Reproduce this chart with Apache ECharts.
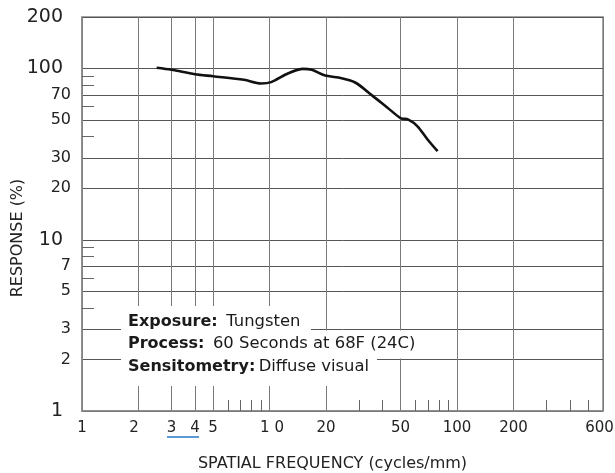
<!DOCTYPE html>
<html><head><meta charset="utf-8">
<script src="https://cdn.jsdelivr.net/npm/echarts@6/dist/echarts.min.js"></script>
<style>html,body{margin:0;padding:0;background:#fff}#c{width:615px;height:473px}</style>
</head><body><div id="c"></div>
<script>
// Spatial frequency (cycles/mm) and response (%)
const freq =     [2.5, 3,    4,    5,    7.3, 9,    10.2, 12.6, 15.1, 16.8, 19.8, 23.3, 28.6, 35.2, 42.4, 50,   55,   61.5, 69.6, 78.7];
const response = [101, 98.3, 92.7, 90.2, 86,  81.8, 83.3, 93.9, 99.6, 98.3, 91,   88.6, 82.9, 69.7, 59.3, 51.4, 50.3, 46,   38.5, 32.9];

const xMajor = [1, 2, 3, 4, 5, 10, 20, 50, 100, 200, 600];
const xMinor = [6, 7, 8, 9, 30, 40, 60, 70, 80, 90, 300, 400, 500];
const yMajor = [1, 2, 3, 5, 7, 10, 20, 30, 50, 70, 100, 200];
const yMinor = [4, 6, 8, 9, 40, 60, 80, 90];
const yBig = [10, 100, 200];

const noteLines = [
  ['Exposure:', ' Tungsten'],
  ['Process:', ' 60 Seconds at 68F (24C)'],
  ['Sensitometry:', 'Diffuse visual']
];

const FONT = '"DejaVu Sans", sans-serif';
const chart = echarts.init(document.getElementById('c'));

const noteY = [322, 343.5, 367];
const graphics = [
  {type: 'rect', z: 50, shape: {x: 121, y: 306, width: 190, height: 25}, style: {fill: '#fff'}},
  {type: 'rect', z: 50, shape: {x: 121, y: 330.5, width: 304, height: 28}, style: {fill: '#fff'}},
  {type: 'rect', z: 50, shape: {x: 121, y: 358, width: 256, height: 28}, style: {fill: '#fff'}},
  {type: 'line', z: 60, shape: {x1: 167, y1: 437, x2: 199, y2: 437}, style: {stroke: '#5b9bd5', lineWidth: 2}}
];
noteLines.forEach((l, i) => {
  graphics.push({
    type: 'text', z: 60,
    style: {
      x: 128, y: noteY[i], verticalAlign: 'middle',
      text: '{b|' + l[0] + '} {r|' + l[1] + '}',
      rich: {
        b: {fontFamily: FONT, fontWeight: 'bold', fontSize: 16, fill: '#1a1a1a'},
        r: {fontFamily: FONT, fontSize: 16.4, fill: '#1a1a1a'}
      }
    }
  });
});

chart.setOption({
  backgroundColor: '#fff',
  animation: false,
  grid: {left: 82, right: 12, top: 17, bottom: 62, show: true, borderColor: '#888', borderWidth: 1.5,
         containLabel: false, outerBoundsMode: 'none'},
  xAxis: [
    {
      type: 'log', min: 1, max: 600, logBase: 10,
      name: 'SPATIAL FREQUENCY (cycles/mm)', nameLocation: 'middle', nameGap: 45, nameMoveOverlap: false,
      nameTextStyle: {fontFamily: FONT, fontSize: 16, color: '#222', padding: [0, 20, 0, 0]},
      axisLine: {show: true, lineStyle: {color: '#888', width: 1.5}},
      axisTick: {show: false, customValues: xMajor},
      axisLabel: {
        customValues: xMajor, margin: 10,
        fontFamily: FONT, fontSize: 15, color: '#222',
        formatter: v => { const r = Math.round(v); return r === 10 ? '{t|1 0}' : r === 600 ? '{e|600}' : r === 2 ? '{w|2}' : String(r); },
        rich: {
          t: {fontFamily: FONT, fontSize: 15, color: '#222', padding: [0, 0, 0, 5]},
          e: {fontFamily: FONT, fontSize: 15, color: '#222', padding: [0, 7, 0, 0]},
          w: {fontFamily: FONT, fontSize: 15, color: '#222', padding: [0, 9, 0, 0]}
        }
      },
      splitLine: {show: true, lineStyle: {color: '#7a7a7a', width: 1}}
    },
    {
      type: 'log', min: 1, max: 600, logBase: 10, position: 'bottom',
      axisLine: {show: false},
      axisTick: {show: true, inside: true, length: 11, customValues: xMinor, lineStyle: {color: '#666', width: 1}},
      axisLabel: {show: false},
      splitLine: {show: false}
    }
  ],
  yAxis: [
    {
      type: 'log', min: 1, max: 200, logBase: 10,
      name: 'RESPONSE (%)', nameLocation: 'middle', nameGap: 56, nameMoveOverlap: false,
      nameTextStyle: {fontFamily: FONT, fontSize: 16, color: '#222', padding: [0, 48, 0, 0]},
      axisLine: {show: true, lineStyle: {color: '#888', width: 1.5}},
      axisTick: {show: false, customValues: yMajor},
      axisLabel: {
        customValues: yMajor, margin: 11,
        formatter: v => { const r = Math.round(v); return yBig.indexOf(r) >= 0 || r === 1 ? '{b|' + r + '}' : '{s|' + r + '}'; },
        rich: {
          b: {fontFamily: FONT, fontSize: 19, color: '#222', padding: [0, 8, 0, 0]},
          s: {fontFamily: FONT, fontSize: 16, color: '#222'}
        }
      },
      splitLine: {show: true, lineStyle: {color: '#555', width: 1}}
    },
    {
      type: 'log', min: 1, max: 200, logBase: 10, position: 'left',
      axisLine: {show: false},
      axisTick: {show: true, inside: true, length: 12, customValues: yMinor, lineStyle: {color: '#666', width: 1}},
      axisLabel: {show: false},
      splitLine: {show: false}
    }
  ],
  series: [{
    type: 'line', xAxisIndex: 0, yAxisIndex: 0,
    data: freq.map((f, i) => [f, response[i]]),
    smooth: 0.3, symbol: 'none',
    lineStyle: {color: '#111', width: 2.6}
  }],
  graphic: graphics
});
</script>
</body></html>
